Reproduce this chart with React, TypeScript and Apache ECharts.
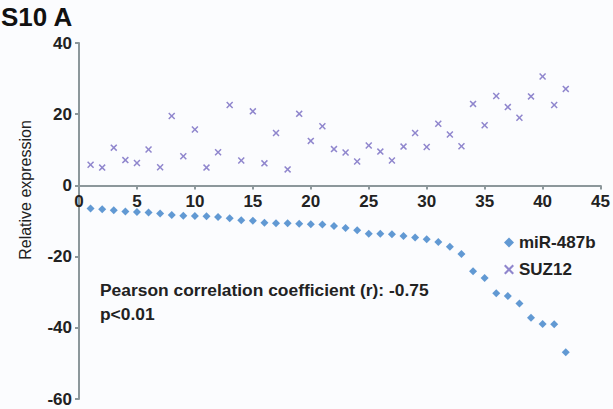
import React, { useEffect, useRef } from "react";
import * as echarts from "echarts";

const xValues = [1,2,3,4,5,6,7,8,9,10,11,12,13,14,15,16,17,18,19,20,21,22,23,24,25,26,27,28,29,30,31,32,33,34,35,36,37,38,39,40,41,42];
const mir487b = [-6.5,-6.7,-7.0,-7.3,-7.5,-7.6,-7.9,-8.3,-8.5,-8.6,-8.7,-8.9,-9.2,-9.8,-9.9,-10.5,-10.6,-10.6,-10.8,-10.9,-11.0,-11.4,-12.0,-12.6,-13.6,-13.6,-13.7,-14.2,-14.6,-15.1,-15.9,-17.2,-19.3,-24.1,-26.0,-30.3,-31.1,-33.2,-37.2,-38.9,-39.0,-46.9];
const suz12 = [5.8,5.0,10.6,7.1,6.3,10.1,5.1,19.5,8.2,15.7,5.0,9.3,22.6,7.0,20.8,6.2,14.7,4.5,20.1,12.5,16.6,10.2,9.25,6.7,11.2,9.5,7.0,10.9,14.7,10.8,17.3,14.3,11.0,22.9,16.9,25.1,22.0,19.0,25.0,30.6,22.6,27.1];
const seriesNames = ["miR-487b", "SUZ12"];
const titleText = "S10 A";
const yAxisTitle = "Relative expression";
const noteLines = ["Pearson correlation coefficient (r): -0.75", "p<0.01"];
const yMin = -60;
const yMax = 40;

const crossPath = "path://M0,1.5L1.5,0L5,3.5L8.5,0L10,1.5L6.5,5L10,8.5L8.5,10L5,6.5L1.5,10L0,8.5L3.5,5Z";
const font = "'Liberation Sans', Arial, sans-serif";

export default function App() {
  const ref = useRef<HTMLDivElement>(null);
  useEffect(() => {
    if (!ref.current) return;
    const chart = echarts.init(ref.current, null, { renderer: "svg" });
    const axisColor = "#8c979b";
    const gridTop = 43;
    const gridBottom = 10;
    const gridHeight = 409 - gridTop - gridBottom;
    // place the x axis at y = 0 (axis crosses at zero)
    const zeroOffset = -gridHeight * (0 - yMin) / (yMax - yMin);
    chart.setOption({
      animation: false,
      backgroundColor: "#fbfcfe",
      textStyle: { fontFamily: font },
      grid: { left: 79, right: 12, top: gridTop, bottom: gridBottom, containLabel: false },
      legend: {
        orient: "vertical",
        left: 504,
        top: 234,
        padding: 0,
        itemGap: 10,
        itemWidth: 10,
        itemHeight: 10,
        textStyle: { fontFamily: font, fontSize: 17, fontWeight: "bold", color: "#222" },
        data: [
          { name: seriesNames[0], icon: "diamond" },
          { name: seriesNames[1], icon: crossPath },
        ],
      },
      xAxis: {
        type: "value",
        min: 0,
        max: 45,
        interval: 5,
        position: "bottom",
        offset: zeroOffset,
        axisLine: { show: true, onZero: false, lineStyle: { color: axisColor, width: 2 } },
        axisTick: { show: true, length: 4, lineStyle: { color: axisColor, width: 2 } },
        axisLabel: { fontFamily: font, fontSize: 17, fontWeight: "bold", color: "#222", margin: 8 },
        splitLine: { show: false },
      },
      yAxis: {
        type: "value",
        min: yMin,
        max: yMax,
        interval: 20,
        axisLine: { show: true, onZero: false, lineStyle: { color: axisColor, width: 2 } },
        axisTick: { show: true, length: 4, lineStyle: { color: axisColor, width: 2 } },
        axisLabel: { fontFamily: font, fontSize: 17, fontWeight: "bold", color: "#222", margin: 7 },
        splitLine: { show: false },
      },
      series: [
        {
          name: seriesNames[0],
          type: "scatter",
          symbol: "diamond",
          symbolSize: 8,
          itemStyle: { color: "#3b7fc8" },
          data: xValues.map((x, i) => [x, mir487b[i]]),
        },
        {
          name: seriesNames[1],
          type: "scatter",
          symbol: crossPath,
          symbolSize: 7,
          itemStyle: { color: "#7468c0" },
          data: xValues.map((x, i) => [x, suz12[i]]),
        },
      ],
      graphic: [
        {
          type: "text",
          x: 1,
          y: 17,
          style: { text: titleText, font: `bold 26px ${font}`, fill: "#111", align: "left", verticalAlign: "middle" },
        },
        {
          type: "text",
          x: 25,
          y: 190,
          rotation: Math.PI / 2,
          style: { text: yAxisTitle, font: `16px ${font}`, fill: "#222", align: "center", verticalAlign: "middle" },
        },
        {
          type: "text",
          x: 100,
          y: 290,
          style: { text: noteLines[0], font: `bold 17.4px ${font}`, fill: "#222", align: "left", verticalAlign: "middle" },
        },
        {
          type: "text",
          x: 100,
          y: 314,
          style: { text: noteLines[1], font: `bold 17.4px ${font}`, fill: "#222", align: "left", verticalAlign: "middle" },
        },
      ],
    });
    return () => chart.dispose();
  }, []);
  return <div ref={ref} style={{ position: "fixed", left: 0, top: 0, width: 613, height: 409 }} />;
}
